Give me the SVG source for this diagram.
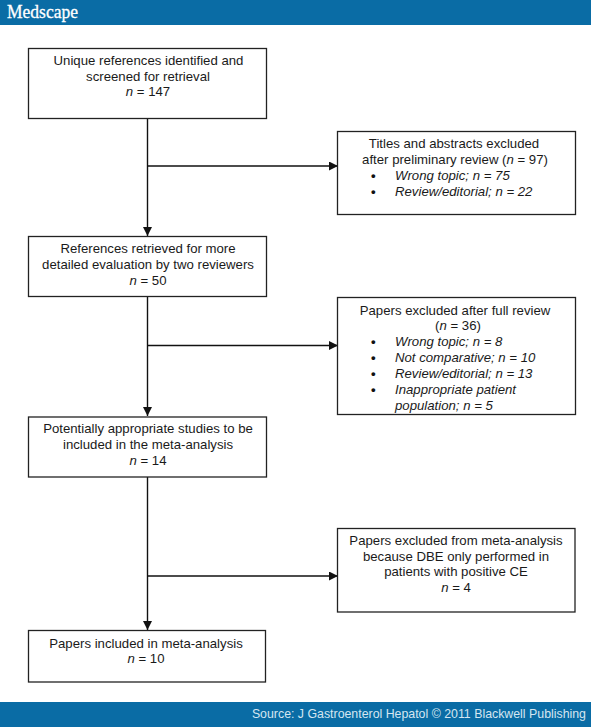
<svg xmlns="http://www.w3.org/2000/svg" width="591" height="727" viewBox="0 0 591 727">
<style>
.t{font-family:"Liberation Sans",Arial,sans-serif;font-size:13.2px;fill:#1a1a1a}
.m{text-anchor:middle}
.i{font-style:italic}
.d{font-weight:bold;fill:#111}
.b{fill:#fff;stroke:#222;stroke-width:1.3}
.c{fill:none;stroke:#111;stroke-width:1.4}
.bar{fill:#0a6ca5}
</style>
<defs><marker id="a" markerUnits="userSpaceOnUse" markerWidth="9" markerHeight="10" refX="9" refY="4.500" orient="auto"><path d="M0 0L9 4.500L0 9z" fill="#111"/></marker></defs>
<rect id="hdr" class="bar" width="591" height="25"/>
<text x="7" y="18" font-family="'Liberation Serif',serif" font-size="18.500" fill="#fff" stroke="#fff" stroke-width="0.3" textLength="71" lengthAdjust="spacingAndGlyphs">Medscape</text>
<rect id="ftr" class="bar" y="702" width="591" height="25"/>
<text x="586" y="718" text-anchor="end" font-family="'Liberation Sans',Arial,sans-serif" font-size="12.350" fill="#d5e6f1">Source: J Gastroenterol Hepatol © 2011 Blackwell Publishing</text>
<g id="connectors">
<path class="c" d="M147.500 119V236" marker-end="url(#a)"/>
<path class="c" d="M147.500 166H338" marker-end="url(#a)"/>
<path class="c" d="M147.500 297V416" marker-end="url(#a)"/>
<path class="c" d="M147.500 345.500H338" marker-end="url(#a)"/>
<path class="c" d="M147.500 477V630" marker-end="url(#a)"/>
<path class="c" d="M147.500 576H338" marker-end="url(#a)"/>
</g>
<g id="n1"><rect class="b" x="28.500" y="48.500" width="238" height="70"/>
<text class="t m" x="148.500" y="65">Unique references identified and</text>
<text class="t m" x="148" y="81">screened for retrieval</text>
<text class="t m" x="148" y="96"><tspan class="i">n</tspan> = 147</text></g>
<g id="n2"><rect class="b" x="337.500" y="131.500" width="238" height="83"/>
<text class="t m" x="454" y="148">Titles and abstracts excluded</text>
<text class="t m" x="455" y="164">after preliminary review (<tspan class="i">n</tspan> = 97)</text>
<text class="t d" x="371" y="180">•</text><text class="t i" x="395" y="180">Wrong topic; n = 75</text>
<text class="t d" x="371" y="196">•</text><text class="t i" x="395" y="196">Review/editorial; n = 22</text></g>
<g id="n3"><rect class="b" x="28.500" y="236.500" width="238" height="60"/>
<text class="t m" x="148" y="253">References retrieved for more</text>
<text class="t m" x="148" y="269">detailed evaluation by two reviewers</text>
<text class="t m" x="148" y="285"><tspan class="i">n</tspan> = 50</text></g>
<g id="n4"><rect class="b" x="337.500" y="297.500" width="238" height="117"/>
<text class="t m" x="455" y="315">Papers excluded after full review</text>
<text class="t m" x="458" y="330">(<tspan class="i">n</tspan> = 36)</text>
<text class="t d" x="371" y="346">•</text><text class="t i" x="395" y="346">Wrong topic; n = 8</text>
<text class="t d" x="371" y="362">•</text><text class="t i" x="395" y="362">Not comparative; n = 10</text>
<text class="t d" x="371" y="378">•</text><text class="t i" x="395" y="378">Review/editorial; n = 13</text>
<text class="t d" x="371" y="394">•</text><text class="t i" x="395" y="394">Inappropriate patient</text>
<text class="t i" x="395" y="410">population; n = 5</text></g>
<g id="n5"><rect class="b" x="28.500" y="417" width="238" height="60"/>
<text class="t m" x="148" y="433">Potentially appropriate studies to be</text>
<text class="t m" x="148" y="449">included in the meta-analysis</text>
<text class="t m" x="148" y="465"><tspan class="i">n</tspan> = 14</text></g>
<g id="n6"><rect class="b" x="337.500" y="528.500" width="237.500" height="83.500"/>
<text class="t m" x="456" y="545">Papers excluded from meta-analysis</text>
<text class="t m" x="456" y="561">because DBE only performed in</text>
<text class="t m" x="456" y="576">patients with positive CE</text>
<text class="t m" x="456" y="592"><tspan class="i">n</tspan> = 4</text></g>
<g id="n7"><rect class="b" x="28.500" y="630.500" width="237" height="51.500"/>
<text class="t m" x="146" y="648">Papers included in meta-analysis</text>
<text class="t m" x="146" y="663"><tspan class="i">n</tspan> = 10</text></g>
</svg>
